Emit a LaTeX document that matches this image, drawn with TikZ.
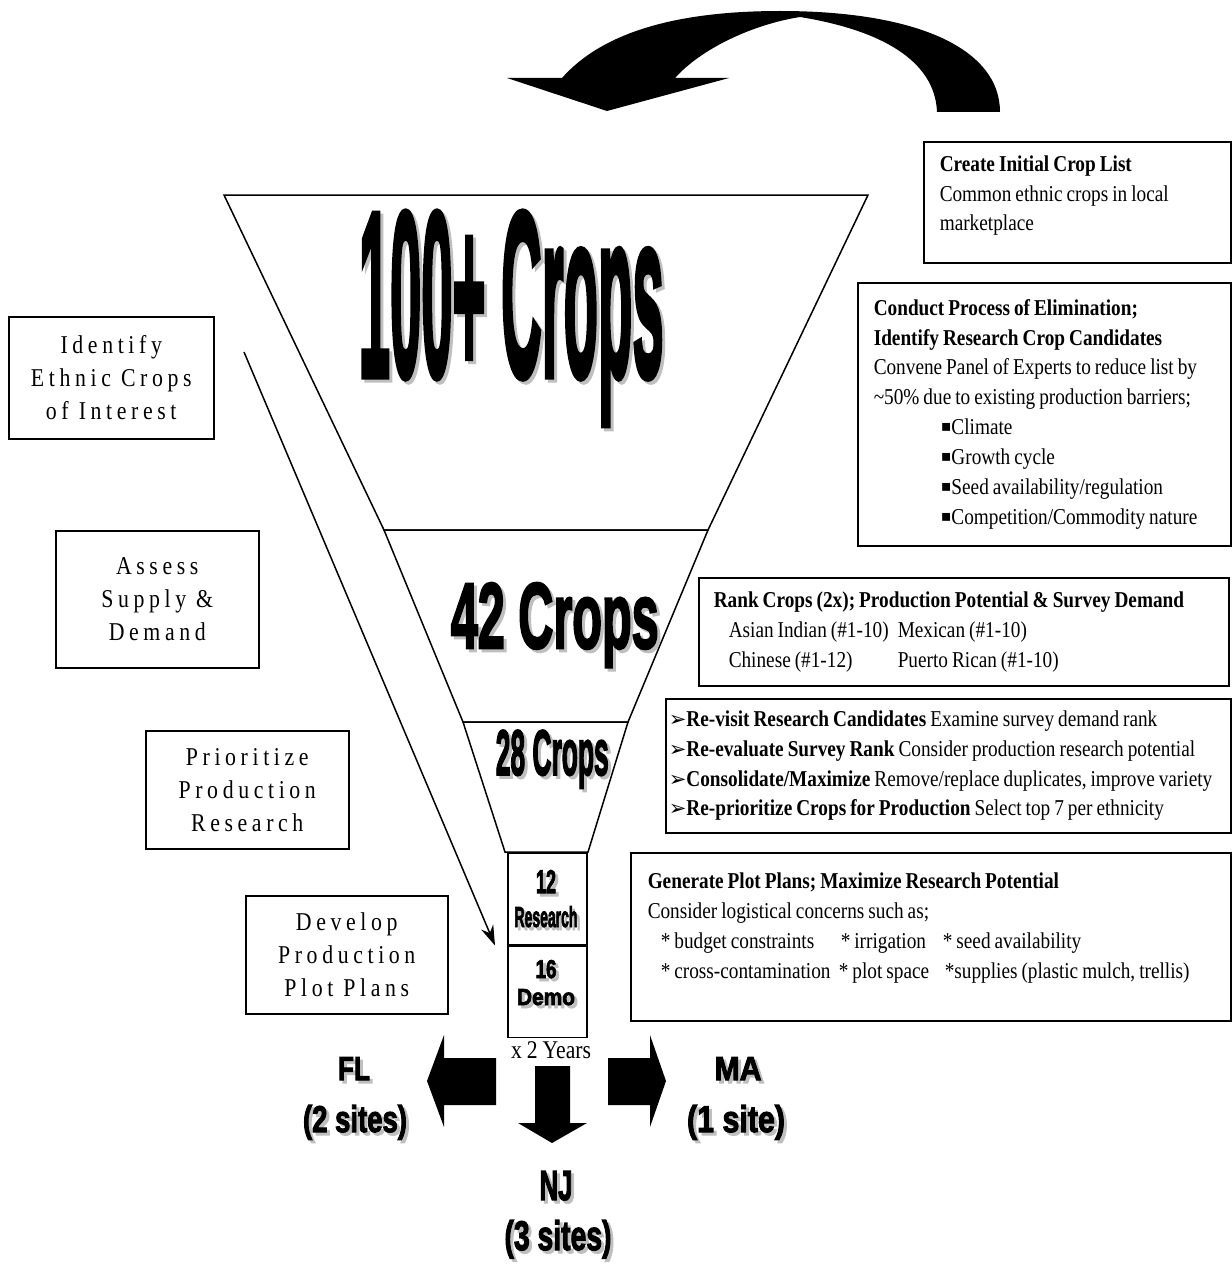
\documentclass[tikz,border=0pt]{standalone}
\usepackage{fontspec}
\usepackage{graphicx}
\usetikzlibrary{arrows.meta}
\setmainfont{Liberation Serif}[FakeStretch=0.85]
\newfontfamily\heavyfont{Liberation Sans}[FakeBold=3]
\newfontfamily\dingfont{DejaVu Sans}
\newlength\pxu
\setlength\pxu{0.02cm}
\newcommand{\bodyfont}{\fontsize{12.9}{17}\selectfont}
\newcommand{\yearsfont}{\fontsize{14.5}{17}\selectfont\spaceskip=5\pxu\relax}
\newcommand{\spacedfont}{\fontsize{14.6}{18.8}\selectfont\addfontfeature{LetterSpace=18}}
\newcommand{\squeeze}[3]{\resizebox{#1\pxu}{#2\pxu}{\heavyfont\bfseries #3}}
\newcommand{\heavy}[3]{\rlap{\kern3\pxu\raisebox{-3\pxu}{\color{black!25}\squeeze{#1}{#2}{#3}}}\squeeze{#1}{#2}{#3}}
\newcommand{\sqbul}{\raisebox{3\pxu}{\dingfont\fontsize{9}{9}\selectfont ▪}}
\newcommand{\arrbul}{{\dingfont\fontsize{12}{12}\selectfont ➢}}
\begin{document}
\begin{tikzpicture}[x=0.02cm,y=-0.02cm,line width=1.5\pxu,
infobox/.style={draw,rectangle,anchor=north west,align=left,inner ysep=0pt,font=\bodyfont,
  execute at begin node={\spaceskip=4\pxu\relax}},
stepbox/.style={draw,rectangle,anchor=north west,align=center,inner sep=0pt,font=\spacedfont},
bigtext/.style={anchor=base west,inner sep=0pt},
sitetext/.style={anchor=base,inner sep=0pt},
blockarrow/.style={fill=black,draw=none}]
\useasboundingbox (0,0) rectangle (1231,1264);
% loop-back arrow on top
\fill (1000,112) .. controls (1000,50) and (920,11) .. (780,11)
  .. controls (670,11) and (600,35) .. (562,78) -- (507,78) -- (607,111) -- (729,78) -- (675,78)
  .. controls (700,50) and (750,25) .. (800,17)
  .. controls (880,30) and (935,60) .. (937,112) -- cycle;
% funnel
\draw (224,195) -- (868,195) -- (708,530) -- (384,530) -- cycle;
\draw (384,530) -- (708,530) -- (628,722) -- (463,722) -- cycle;
\draw (463,722) -- (628,722) -- (588,852) -- (505,852) -- cycle;
\node[bigtext] (crops100) at (358,376) {\heavy{305}{164}{100+ Crops}};
\node[bigtext] (crops42) at (450,648) {\heavy{208}{65}{42 Crops}};
\node[bigtext] (crops28) at (495,775) {\heavy{113}{45}{28 Crops}};
% research / demo split
\node[draw,rectangle,anchor=north west,inner sep=0pt,minimum width=79\pxu,minimum height=92\pxu] (research) at (507,852) {};
\node[draw,rectangle,anchor=north,inner sep=0pt,minimum width=79\pxu,minimum height=91\pxu] (demo) at (research.south) {};
\node[sitetext] (resnum) at (546,893) {\heavy{20}{23}{12}};
\node[sitetext] (reslbl) at (546,927) {\heavy{63}{21}{Research}};
\node[sitetext] (demonum) at (546,978) {\heavy{21}{18}{16}};
\node[sitetext] (demolbl) at (546,1005) {\heavy{58}{16}{Demo}};
\node[anchor=base,inner sep=0pt,font=\yearsfont] (years) at (551,1058) {x 2 Years};
% site arrows
\fill[blockarrow] (496,1058) -- (444,1058) -- (444,1035) -- (427,1081) -- (444,1127) -- (444,1105) -- (496,1105) -- cycle;
\fill[blockarrow] (608,1058) -- (650,1058) -- (650,1035) -- (666,1081) -- (650,1127) -- (650,1105) -- (608,1105) -- cycle;
\fill[blockarrow] (535,1066) -- (570,1066) -- (570,1123) -- (587,1123) -- (552,1143) -- (518,1123) -- (535,1123) -- cycle;
\node[sitetext] (fl) at (354,1080) {\heavy{32}{23}{FL}};
\node[sitetext] (flsites) at (355,1132) {\heavy{104}{27}{(2 sites)}};
\node[sitetext] (ma) at (738,1080) {\heavy{47}{23}{MA}};
\node[sitetext] (masites) at (736,1132) {\heavy{98}{27}{(1 site)}};
\node[sitetext] (nj) at (556,1200) {\heavy{33}{29}{NJ}};
\node[sitetext] (njsites) at (558,1250) {\heavy{107}{30}{(3 sites)}};
% steps on the left
\node[stepbox,minimum width=205\pxu,minimum height=122\pxu] (identify) at (8,316) {Identify\\Ethnic Crops\\of Interest};
\node[stepbox,minimum width=203\pxu,minimum height=137\pxu] (assess) at (55,530) {Assess\\Supply \&\\Demand};
\node[stepbox,minimum width=203\pxu,minimum height=118\pxu] (prioritize) at (145,730) {Prioritize\\Production\\Research};
\node[stepbox,minimum width=202\pxu,minimum height=118\pxu] (develop) at (245,895) {Develop\\Production\\Plot Plans};
\coordinate (diagstart) at (244,352);
\draw[-{Stealth[length=0.4cm,width=0.26cm]}] (diagstart) -- ([xshift=-0.24cm]research.south west);
% notes on the right
\node[infobox,inner xsep=16\pxu,text width=275\pxu,minimum height=121\pxu] (create) at (923,141)
  {\textbf{Create Initial Crop List}\\Common ethnic crops in local\\marketplace\rule[-18\pxu]{0pt}{0pt}};
\node[infobox,inner xsep=16\pxu,text width=341\pxu,minimum height=263\pxu] (conduct) at (857,282)
  {\textbf{Conduct Process of Elimination;}\\\textbf{Identify Research Crop Candidates}\\
   Convene Panel of Experts to reduce list by\\\textasciitilde50\% due to existing production barriers;\\
   \hspace*{67\pxu}\sqbul Climate\\\hspace*{67\pxu}\sqbul Growth cycle\\
   \hspace*{67\pxu}\sqbul Seed availability/regulation\\\hspace*{67\pxu}\sqbul Competition/Commodity nature};
\node[infobox,inner xsep=15\pxu,text width=500\pxu,minimum height=108\pxu] (rank) at (698,577)
  {\textbf{Rank Crops (2x); Production Potential \& Survey Demand}\\
   \hspace*{15\pxu}\makebox[169\pxu][l]{Asian Indian (\#1-10)}Mexican (\#1-10)\\
   \hspace*{15\pxu}\makebox[169\pxu][l]{Chinese (\#1-12)}Puerto Rican (\#1-10)};
\node[infobox,inner xsep=3\pxu,text width=559\pxu,minimum height=134\pxu] (revisit) at (665,698)
  {\arrbul\textbf{Re-visit Research Candidates} Examine survey demand rank\\
   \arrbul\textbf{Re-evaluate Survey Rank} Consider production research potential\\
   \arrbul\textbf{Consolidate/Maximize} Remove/replace duplicates, improve variety\\
   \arrbul\textbf{Re-prioritize Crops for Production} Select top 7 per ethnicity};
\node[infobox,inner xsep=17\pxu,text width=566\pxu,minimum height=168\pxu] (generate) at (630,852)
  {\textbf{Generate Plot Plans; Maximize Research Potential}\\
   Consider logistical concerns such as;\\
   \hspace*{13\pxu}\makebox[180\pxu][l]{* budget constraints}\makebox[102\pxu][l]{* irrigation}* seed availability\\
   \hspace*{13\pxu}\makebox[178\pxu][l]{* cross-contamination}\makebox[106\pxu][l]{* plot space}*supplies (plastic mulch, trellis)\rule[-22\pxu]{0pt}{0pt}};
\end{tikzpicture}
\end{document}
